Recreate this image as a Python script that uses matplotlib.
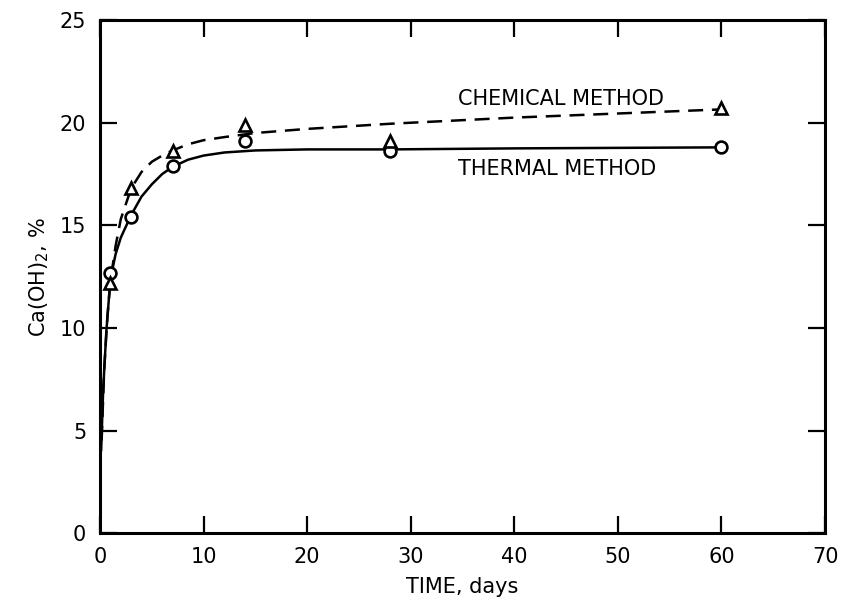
import matplotlib
matplotlib.use("Agg")
import matplotlib.pyplot as plt

# Measured points
days = [1, 3, 7, 14, 28, 60]
thermal_pts = [12.7, 15.4, 17.9, 19.1, 18.6, 18.8]
chemical_pts = [12.2, 16.8, 18.6, 19.9, 19.1, 20.7]

# Hand-drawn fitted curves
thermal_curve_x = [0.1, 0.3, 0.6, 1.0, 1.5, 2.0, 3.0, 4.0, 5.0, 6.0, 7.0, 8.5, 10, 12, 15, 20, 28, 40, 60]
thermal_curve_y = [4.0, 7.0, 9.8, 12.4, 13.6, 14.4, 15.5, 16.4, 17.0, 17.5, 17.85, 18.2, 18.4, 18.55, 18.65, 18.7, 18.7, 18.75, 18.8]
chemical_curve_x = [0.15, 0.4, 0.7, 1.0, 1.5, 2.0, 3.0, 4.0, 5.0, 6.0, 7.0, 8.5, 10, 12, 15, 20, 28, 40, 50, 60]
chemical_curve_y = [4.5, 8.0, 10.5, 12.3, 14.0, 15.3, 16.8, 17.6, 18.1, 18.4, 18.65, 18.95, 19.15, 19.3, 19.5, 19.7, 19.95, 20.25, 20.45, 20.65]

xticks = [0, 10, 20, 30, 40, 50, 60, 70]
yticks = [0, 5, 10, 15, 20, 25]

plt.rcParams['font.family'] = ['DejaVu Sans']

fig = plt.figure(figsize=(8.41, 6.10), dpi=100)
ax = fig.add_axes([0.119, 0.126, 0.862, 0.841])

ax.plot(thermal_curve_x, thermal_curve_y, color='black', lw=1.8, solid_capstyle='round')
ax.plot(chemical_curve_x, chemical_curve_y, color='black', lw=1.8, linestyle=(0, (6, 3.5)))
ax.plot(days, thermal_pts, linestyle='none', marker='o', markersize=8.5,
        markerfacecolor='white', markeredgecolor='black', markeredgewidth=1.9, zorder=3)
ax.plot(days, chemical_pts, linestyle='none', marker='^', markersize=8,
        markerfacecolor='white', markeredgecolor='black', markeredgewidth=1.9, zorder=3)

ax.text(44.5, 21.15, 'CHEMICAL METHOD', ha='center', va='center', fontsize=15)
ax.text(44.1, 17.75, 'THERMAL METHOD', ha='center', va='center', fontsize=15)

ax.set_xlim(0, 70)
ax.set_ylim(0, 25)
ax.set_xticks(xticks)
ax.set_yticks(yticks)
ax.tick_params(direction='in', length=12, width=1.6, top=True, right=True,
               labelsize=15, pad=10)
for s in ax.spines.values():
    s.set_linewidth(2.2)

ax.set_xlabel('TIME, days', fontsize=15, labelpad=7)
ax.set_ylabel('Ca(OH)$_2$, %', fontsize=15, labelpad=6)

fig.savefig('out.png', dpi=100)
